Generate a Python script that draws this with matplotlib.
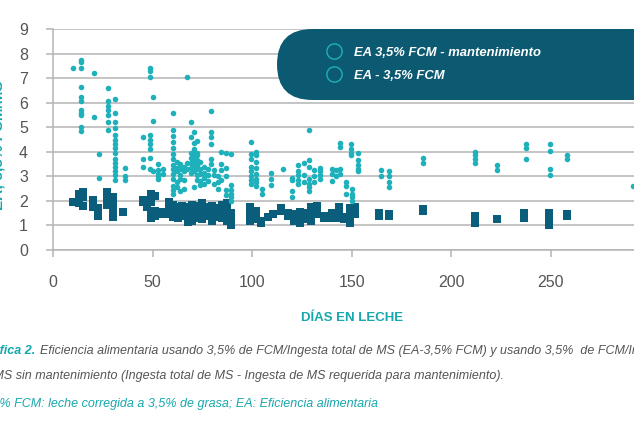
"""
Gráfica 2: eficiencia alimentaria (EA) frente a días en leche.
"""

import matplotlib
matplotlib.use("Agg")
import matplotlib.pyplot as plt
import matplotlib.patches as mpatches
import matplotlib.transforms as mtrans
from matplotlib.lines import Line2D

# ---------------------------------------------------------------------------
# Data
# ---------------------------------------------------------------------------

# EA 3,5% FCM - mantenimiento (teal dots)
mant_days = (
    [10] + [14] * 11 + [20.5] * 2 + [23] * 2 + [27.5] * 7 + [31] * 15
    + [36] * 3 + [45] * 3 + [48.5] * 9 + [50] * 3 + [52.5] * 5 + [55] * 2
    + [60] * 14 + [62] * 5 + [64] * 5 + [66] * 4 + [67.5] * 3 + [69.5] * 7
    + [71] * 12 + [72.5] * 8 + [74] * 5 + [76] * 4 + [78] * 3 + [79.5] * 6
    + [81] * 3 + [83] * 3 + [84.5] * 4 + [87] * 5 + [89.5] * 6
    + [99.5] * 8 + [102] * 8 + [105] * 2 + [109.5] * 3 + [115.5]
    + [120] * 4 + [123] * 5 + [126] * 3 + [128.5] * 7 + [131] * 3
    + [134] * 4 + [140] * 3 + [142] * 2 + [144] * 4 + [147] * 3
    + [149.5] * 4 + [150] * 4 + [153] * 5 + [164.5] * 2 + [168.5] * 4
    + [185.5] * 2 + [212] * 4 + [223] * 2 + [237.5] * 3 + [249.5] * 4
    + [258] * 2 + [291]
)
mant_ea = [
    7.4,
    7.75, 7.65, 7.4, 6.65, 6.25, 6.05, 5.7, 5.6, 5.5, 5.0, 4.85,
    7.2, 5.4,
    3.9, 2.95,
    6.6, 6.05, 5.85, 5.7, 5.5, 5.2, 4.9,
    6.15, 5.6, 5.2, 4.95, 4.7, 4.5, 4.3, 4.15, 3.95, 3.7, 3.55, 3.4, 3.2, 3.05, 2.85,
    3.35, 3.0, 2.85,
    4.6, 3.7, 3.4,
    7.4, 7.3, 7.05, 4.7, 4.5, 4.3, 4.1, 3.75, 3.3,
    6.25, 5.25, 3.2,
    3.5, 3.25, 3.1, 3.0, 2.9,
    3.3, 3.1,
    5.6, 4.9, 4.65, 4.4, 4.15, 3.9, 3.7, 3.45, 3.3, 3.1, 2.9, 2.6, 2.45, 2.3,
    3.6, 3.35, 3.2, 2.75, 2.55,
    3.5, 3.3, 3.05, 2.9, 2.4,
    3.4, 3.2, 2.85, 2.5,
    7.05, 3.55, 3.3,
    5.2, 4.6, 3.95, 3.75, 3.55, 3.35, 3.15,
    4.8, 4.35, 4.1, 3.9, 3.8, 3.7, 3.6, 3.5, 3.4, 3.3, 3.2, 2.55,
    4.45, 3.95, 3.85, 3.65, 3.45, 3.3, 3.05, 2.85,
    3.6, 3.3, 3.1, 2.8, 2.65,
    3.4, 3.15, 2.95, 2.7,
    3.3, 3.05, 2.8,
    5.65, 4.8, 4.6, 4.3, 3.7, 3.5,
    3.25, 3.05, 2.7,
    3.0, 2.75, 2.5,
    4.0, 3.5, 3.25, 2.85,
    3.95, 3.35, 3.0, 2.45, 2.25,
    3.9, 2.65, 2.45, 2.3, 2.15, 2.0,
    4.4, 3.9, 3.7, 3.4, 3.2, 3.0, 2.85, 2.7,
    4.0, 3.85, 3.6, 3.35, 3.1, 2.9, 2.75, 2.6,
    2.5, 2.3,
    3.15, 2.9, 2.65,
    3.3,
    2.95, 2.85, 2.4, 2.15,
    3.45, 3.2, 3.05, 2.85, 2.7,
    3.55, 3.05, 2.75,
    4.9, 3.65, 3.4, 2.9, 2.7, 2.55, 2.4,
    3.25, 3.0, 2.75,
    3.35, 3.2, 3.05, 2.9,
    3.3, 3.1, 2.8,
    3.25, 3.0,
    4.35, 4.2, 3.3, 3.1,
    2.75, 2.6, 2.3,
    4.3, 4.1, 3.95, 3.85,
    2.5, 2.3, 2.15, 2.0,
    3.95, 3.65, 3.45, 3.3, 3.2,
    3.25, 3.0,
    3.2, 3.0, 2.75, 2.55,
    3.75, 3.55,
    4.0, 3.85, 3.7, 3.55,
    3.45, 3.25,
    4.3, 4.15, 3.7,
    4.3, 4.05, 3.3, 3.05,
    3.85, 3.7,
    2.6,
]

# EA - 3,5% FCM (dark squares)
fcm_days = (
    [10] + [13] * 3 + [15] * 3 + [20] * 3 + [22.5] * 3 + [27] * 4 + [30] * 5
    + [35] + [45] * 2 + [47] * 2 + [49] * 5 + [51] * 3 + [54] * 2 + [58] * 4
    + [60] * 4 + [62.5] * 4 + [65] * 3 + [68] * 5 + [70] * 5 + [72.5] * 4
    + [75] * 5 + [77.5] * 3 + [80] * 4 + [82.5] * 3 + [85] * 4 + [87.5] * 4
    + [89.5] * 4 + [99] * 4 + [102] * 3 + [104.5] * 2 + [108] + [110.5]
    + [114.5] * 2 + [118] * 2 + [121] * 3 + [124] * 4 + [127] * 2
    + [129.5] * 4 + [132.5] * 2 + [136] * 2 + [140] * 3 + [143.5] * 4
    + [146] * 2 + [149] * 5 + [151.5] * 3 + [163.5] * 2 + [168.5] * 2
    + [185.5] * 2 + [212] * 3 + [223] + [236.5] * 2 + [249] * 4 + [258] * 2
)
fcm_ea = [
    1.95,
    2.3, 2.1, 1.9,
    2.35, 2.15, 1.8,
    2.05, 1.85, 1.75,
    1.7, 1.5, 1.4,
    2.35, 2.2, 2.0, 1.85,
    2.15, 1.95, 1.75, 1.5, 1.35,
    1.55,
    2.05, 1.95,
    2.0, 1.75,
    2.3, 2.15, 1.95, 1.5, 1.3,
    2.2, 1.6, 1.4,
    1.55, 1.45,
    1.95, 1.75, 1.6, 1.45,
    1.85, 1.65, 1.5, 1.35,
    1.75, 1.6, 1.45, 1.3,
    1.8, 1.55, 1.4,
    1.75, 1.6, 1.45, 1.3, 1.15,
    1.85, 1.7, 1.5, 1.35, 1.2,
    1.8, 1.6, 1.45, 1.3,
    1.9, 1.7, 1.55, 1.4, 1.25,
    1.75, 1.6, 1.4,
    1.8, 1.55, 1.35, 1.2,
    1.7, 1.5, 1.35,
    1.85, 1.65, 1.45, 1.3,
    1.9, 1.6, 1.4, 1.2,
    1.5, 1.3, 1.15, 1.0,
    1.75, 1.55, 1.35, 1.2,
    1.6, 1.4, 1.25,
    1.2, 1.1,
    1.35,
    1.45,
    1.7, 1.6,
    1.5, 1.4,
    1.45, 1.3, 1.2,
    1.55, 1.35, 1.15, 1.1,
    1.5, 1.25,
    1.75, 1.5, 1.35, 1.2,
    1.8, 1.45,
    1.4, 1.3,
    1.5, 1.4, 1.3,
    1.75, 1.6, 1.45, 1.3,
    1.35, 1.25,
    1.7, 1.55, 1.4, 1.25, 1.1,
    1.75, 1.6, 1.45,
    1.5, 1.4,
    1.45, 1.4,
    1.65, 1.6,
    1.4, 1.25, 1.1,
    1.27,
    1.5, 1.3,
    1.5, 1.35, 1.2, 1.0,
    1.45, 1.4,
]

x_ticks = [0, 50, 100, 150, 200, 250]
y_ticks = list(range(0, 10))

legend_labels = ["EA 3,5% FCM - mantenimiento", "EA - 3,5% FCM"]

caption_head = "Gráfica 2."
caption_l1 = ("Eficiencia alimentaria usando 3,5% de FCM/Ingesta total de MS "
              "(EA-3,5% FCM) y usando 3,5%  de FCM/Ingesta")
caption_l2 = ("de MS sin mantenimiento (Ingesta total de MS - Ingesta de MS "
              "requerida para mantenimiento).")
caption_l3 = "3,5% FCM: leche corregida a 3,5% de grasa; EA: Eficiencia alimentaria"

# ---------------------------------------------------------------------------
# Style
# ---------------------------------------------------------------------------

TEAL = "#1fb1bb"
DARK = "#0b5e7b"
PILL = "#0c5a71"
LABEL_TEAL = "#17a7ae"
GREY_TXT = "#555555"
GRID = "#b4b4b4"

plt.rcParams["font.family"] = ["Liberation Sans", "DejaVu Sans"]

W, H = 634, 433
fig = plt.figure(figsize=(W / 100, H / 100), dpi=100)
renderer = fig.canvas.get_renderer()

x0, y0 = 53, 250          # pixel position of (0, 0)
px_per_day = 1.992
px_per_unit = 24.55
xmax = 300
ax = fig.add_axes([x0 / W, 1 - y0 / H, xmax * px_per_day / W, 9 * px_per_unit / H])

ax.set_xlim(0, xmax)
ax.set_ylim(0, 9)
ax.set_xticks(x_ticks)
ax.set_yticks(y_ticks)
ax.grid(axis="y", color=GRID, linewidth=1.1)
ax.set_axisbelow(True)
for side in ("top", "right"):
    ax.spines[side].set_visible(False)
for side in ("left", "bottom"):
    ax.spines[side].set_color(GRID)
    ax.spines[side].set_linewidth(1.1)
ax.tick_params(axis="both", colors=GRID, labelcolor=GREY_TXT, labelsize=11.5,
               length=5, width=1.1)
ax.tick_params(axis="x", pad=13)
ax.tick_params(axis="y", pad=13)

ax.scatter(fcm_days, fcm_ea, marker="s", s=32, color=DARK, linewidths=0,
           zorder=3)
ax.scatter(mant_days, mant_ea, marker="o", s=16, color=TEAL, linewidths=0,
           zorder=4)

# Legend pill (pixel coordinates)
pill = mpatches.FancyBboxPatch((277, H - 100), 420, 71,
                               boxstyle="round,pad=0,rounding_size=35.5",
                               transform=mtrans.IdentityTransform(),
                               facecolor=PILL, edgecolor="none", zorder=2)
fig.patches.append(pill)

handles = [Line2D([], [], ls="none", marker="o", markersize=11,
                  markerfacecolor="none", markeredgecolor=TEAL, markeredgewidth=1.0)
           for _ in legend_labels]
leg = fig.legend(handles, legend_labels, loc="upper left",
                 bbox_to_anchor=(316 / W, 1 - 40 / H), frameon=False,
                 prop={"size": 9.4, "weight": "bold", "style": "italic"},
                 labelcolor="white", handlelength=1.8, handletextpad=0.6,
                 labelspacing=0.85, borderpad=0)
leg.set_zorder(6)

# Axis titles
fig.text(-1 / W, 1 - 145 / H, "EA; 3,5% FCM/MS", rotation=90, ha="center",
         va="center", color=LABEL_TEAL, fontsize=11, fontweight="bold")
fig.text(352 / W, 1 - 318 / H, "DÍAS EN LECHE", ha="center", va="center",
         color=LABEL_TEAL, fontsize=9.5, fontweight="bold")


# Caption: lines start partly off the left edge, as in the source page
def _width(s, **kw):
    t = fig.text(0, 0, s, **kw)
    w = t.get_window_extent(renderer).width
    t.remove()
    return w


cap = dict(fontsize=9, fontstyle="italic", va="center", ha="left")
head_kw = dict(cap, color=LABEL_TEAL, fontweight="bold")
left = -_width("Grá", **head_kw)
t_head = fig.text(left / W, 1 - 351 / H, caption_head, **head_kw)
bb = t_head.get_window_extent(renderer)
fig.text((bb.x1 + 4) / W, 1 - 351 / H, caption_l1, color=GREY_TXT, **cap)
fig.text(-(_width("de M", **cap) - 4) / W, 1 - 376 / H, caption_l2,
         color=GREY_TXT, **cap)
fig.text(-_width("3,5", **cap) / W, 1 - 404 / H, caption_l3,
         color=LABEL_TEAL, **cap)

fig.savefig("out.png", dpi=100)
